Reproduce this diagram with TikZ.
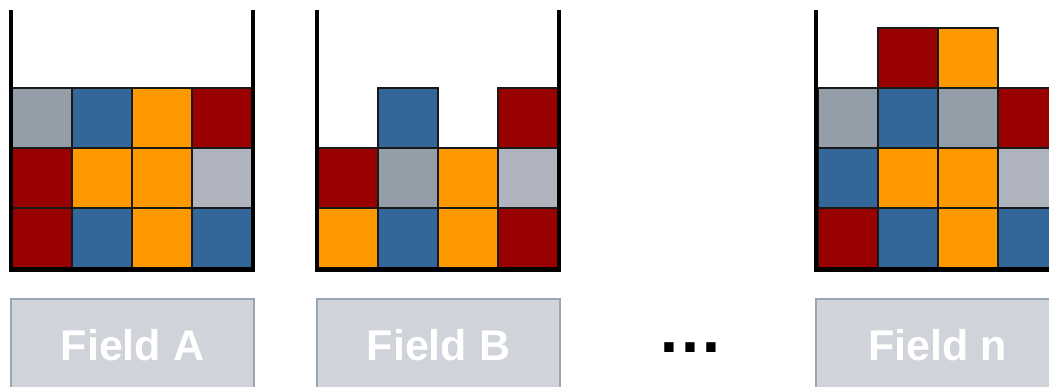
\documentclass[tikz,border=0pt]{standalone}
\usepackage{fontspec}
\setmainfont{Liberation Sans}
\definecolor{cRed}{HTML}{990000}
\definecolor{cBlue}{HTML}{336699}
\definecolor{cOrange}{HTML}{FF9900}
\definecolor{cGray}{HTML}{949EA8}
\definecolor{cLGray}{HTML}{AFB4BE}
\definecolor{boxfill}{HTML}{D0D3DA}
\definecolor{boxline}{HTML}{9AA5B3}
\begin{document}
\begin{tikzpicture}[x=1pt,y=-1pt,
  cell/.style={draw=black!90, line width=1.3pt},
  wall/.style={line width=4.5pt, line join=miter},
  labelbox/.style={draw=boxline, fill=boxfill, line width=1.5pt, minimum width=243pt, minimum height=93pt, inner sep=0pt, text=white, font=\fontsize{43}{43}\selectfont\bfseries}]
\useasboundingbox (0,0) rectangle (1049,386);
\clip (0,0) rectangle (1049,386);
% Field A
\begin{scope}[xshift=12pt]
\foreach \col/\row/\c in {0/0/cRed,1/0/cBlue,2/0/cOrange,3/0/cBlue,
  0/1/cRed,1/1/cOrange,2/1/cOrange,3/1/cLGray,
  0/2/cGray,1/2/cBlue,2/2/cOrange,3/2/cRed}
  \filldraw[cell, fill=\c] (\col*60, 208-\row*60) rectangle ++(60,60);
\end{scope}
\draw[wall] (11,10) -- (11,269.5) -- (253,269.5) -- (253,10);
% Field B
\begin{scope}[xshift=318pt]
\foreach \col/\row/\c in {0/0/cOrange,1/0/cBlue,2/0/cOrange,3/0/cRed,
  0/1/cRed,1/1/cGray,2/1/cOrange,3/1/cLGray,
  1/2/cBlue,3/2/cRed}
  \filldraw[cell, fill=\c] (\col*60, 208-\row*60) rectangle ++(60,60);
\end{scope}
\draw[wall] (317,10) -- (317,269.5) -- (559,269.5) -- (559,10);
% Field n
\begin{scope}[xshift=818pt]
\foreach \col/\row/\c in {0/0/cRed,1/0/cBlue,2/0/cOrange,3/0/cBlue,
  0/1/cBlue,1/1/cOrange,2/1/cOrange,3/1/cLGray,
  0/2/cGray,1/2/cBlue,2/2/cGray,3/2/cRed,
  1/3/cRed,2/3/cOrange}
  \filldraw[cell, fill=\c] (\col*60, 208-\row*60) rectangle ++(60,60);
\end{scope}
\draw[wall] (816,10) -- (816,269.5) -- (1060,269.5) -- (1060,10);
% labels
\node[labelbox] (fa) at (132.5,345.5) {Field A};
\node[labelbox] (fb) at (438.5,345.5) {Field B};
\node[labelbox] (fn) at (937.5,345.5) {Field n};
\node[anchor=base, inner sep=0pt, font=\fontsize{66}{66}\selectfont\bfseries] (dots) at (690,352.5) {…};
\end{tikzpicture}
\end{document}
